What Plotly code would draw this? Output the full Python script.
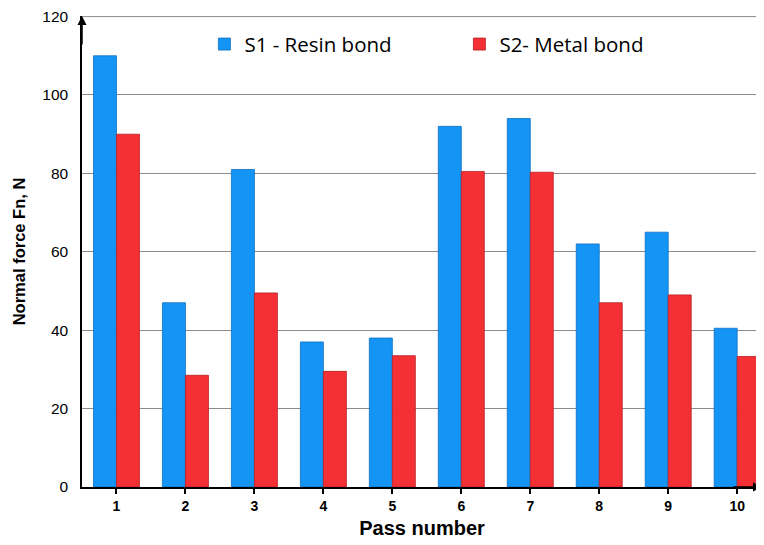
import plotly.graph_objects as go

passes = ["1", "2", "3", "4", "5", "6", "7", "8", "9", "10"]
s1_resin = [110, 47, 81, 37, 38, 92, 94, 62, 65, 40.5]
s2_metal = [90, 28.5, 49.5, 29.5, 33.5, 80.5, 80.3, 47, 49, 33.3]
y_ticks = [0, 20, 40, 60, 80, 100, 120]

x_pos = list(range(1, len(passes) + 1))

fig = go.Figure()
fig.add_trace(go.Bar(
    x=x_pos, y=s1_resin, name="S1 - Resin bond",
    marker=dict(color="#1495f5", line=dict(color="#0c6fc0", width=0.8)),
))
fig.add_trace(go.Bar(
    x=x_pos, y=s2_metal, name="S2- Metal bond",
    marker=dict(color="#f43035", line=dict(color="#b81e22", width=0.8)),
))

fig.update_layout(
    width=756, height=537,
    margin=dict(l=74, r=2, t=8, b=58),
    paper_bgcolor="white", plot_bgcolor="white",
    barmode="group", bargap=0.333, bargroupgap=0,
    font=dict(family="Liberation Sans, Arial", color="black"),
    legend=dict(
        orientation="h", x=0.18, y=0.94, xanchor="left", yanchor="middle",
        font=dict(family="Open Sans, Noto Sans", size=20.5, color="black"),
        entrywidth=210, entrywidthmode="pixels",
        bgcolor="rgba(0,0,0,0)",
    ),
    xaxis=dict(
        range=[0.5, 10.36],
        tickmode="array", tickvals=x_pos,
        ticktext=["<b>" + p + "</b>" for p in passes],
        tickfont=dict(size=14, family="Liberation Sans, Arial"),
        ticks="outside", ticklen=5, tickcolor="black", tickwidth=1.5,
        showline=True, linecolor="black", linewidth=1.5,
        showgrid=False, zeroline=False, automargin=False,
        title=dict(text="<b>Pass number</b>", font=dict(size=20), standoff=8),
    ),
    yaxis=dict(
        range=[0, 120.15],
        tickmode="array", tickvals=y_ticks,
        tickfont=dict(size=15.5), ticklabeloverflow="allow",
        ticklabelstandoff=9,
        ticks="", showline=True, linecolor="black", linewidth=1.5,
        showgrid=True, gridcolor="#8c8c8c", gridwidth=1,
        zeroline=False, automargin=False,
        title=dict(text="<b>Normal force Fn, N</b>", font=dict(size=16.5), standoff=13),
    ),
)

# top gridline at the last tick value
fig.add_shape(type="line", xref="paper", yref="y", x0=0, x1=1,
              y0=y_ticks[-1], y1=y_ticks[-1],
              line=dict(color="#8c8c8c", width=1), layer="below")

# axis arrows
fig.add_annotation(x=0, y=1.0, xref="paper", yref="paper", ax=0, ay=30,
                   showarrow=True, arrowhead=2,
                   arrowsize=1.2, arrowwidth=1.5, arrowcolor="black", text="")
fig.add_annotation(x=1.0, y=0, xref="paper", yref="paper", ax=-30, ay=0,
                   showarrow=True, arrowhead=2, arrowsize=1.2, arrowwidth=1.5,
                   arrowcolor="black", text="")

fig.write_html("out.html")
